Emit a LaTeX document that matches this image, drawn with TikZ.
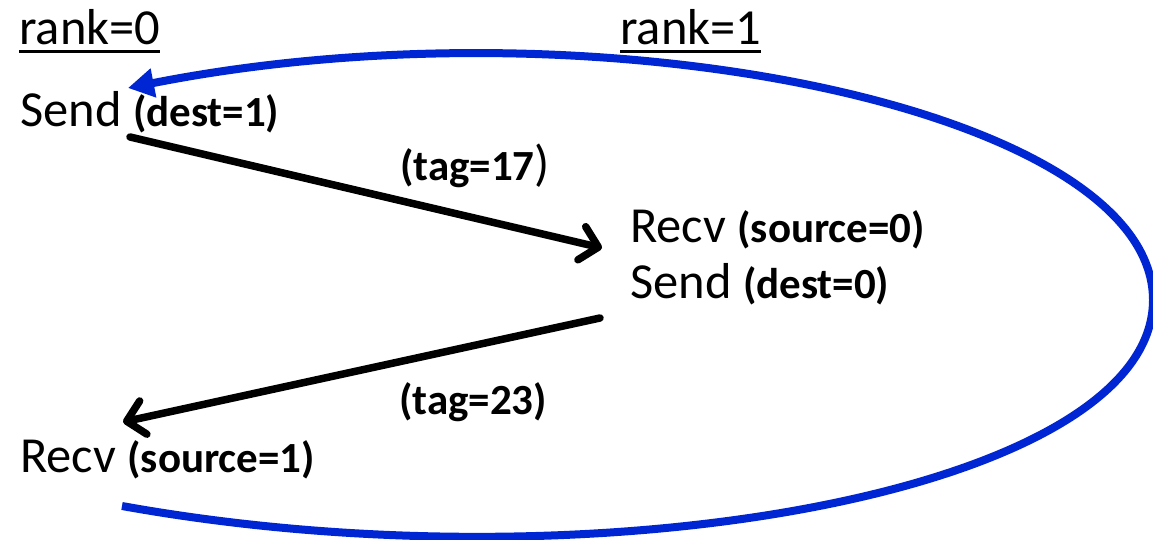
\documentclass[tikz,border=0pt]{standalone}
\usepackage{fontspec}
\setmainfont{Carlito}
\usetikzlibrary{arrows.meta}
\definecolor{loopblue}{RGB}{0,38,212}
\newcommand{\parm}[1]{{\bfseries\fontsize{43}{51}\selectfont #1}}
\begin{document}
\begin{tikzpicture}[x=1pt,y=-1pt,
  big/.style={inner sep=0pt, anchor=base west, font=\fontsize{50.5}{60}\selectfont},
  msg/.style={line width=7.5pt, line cap=round, -{Straight Barb[length=17pt,width=34pt,line cap=round,line join=round]}},
  loopline/.style={line width=8pt, draw=loopblue, -{Triangle[length=26pt,width=28pt]}},
  uline/.style={line width=3pt}]
\useasboundingbox (0,0) rectangle (1153,540);

\node[big] (rank0) at (19,45) {rank=0};
\node[big] (rank1) at (620,45) {rank=1};
\draw[uline] ([yshift=-7pt]rank0.base west) -- ([yshift=-7pt]rank0.base east);
\draw[uline] ([yshift=-7pt]rank1.base west) -- ([yshift=-7pt]rank1.base east);

\node[big] (send0) at (20,127) {Send \parm{(dest=1)}};
\node[big] (recv1) at (630,242) {Recv \parm{(source=0)}};
\node[big] (send1) at (630,298) {Send \parm{(dest=0)}};
\node[big] (recv0) at (20,472) {Recv \parm{(source=1)}};

\node[big] (tag17) at (400,181) {\parm{(tag=17}\fontsize{50}{60}\selectfont)};
\node[big] (tag23) at (399,414) {\parm{(tag=23)}};

\coordinate (a1s) at ([shift={(110,10)}]send0.base west);
\coordinate (a1e) at ([shift={(-28,6)}]recv1.base west);
\coordinate (a2s) at ([shift={(-30,20)}]send1.base west);
\coordinate (a2e) at ([shift={(103,-50)}]recv0.base west);
\coordinate (bs) at ([shift={(102,34)}]recv0.base west);
\coordinate (be) at ([shift={(108,-39)}]send0.base west);

\draw[msg] (a1s) -- (a1e);
\draw[msg] (a2s) -- (a2e);
\draw[loopline] (bs) .. controls (600,592) and (1153,490) .. (1153,300)
  .. controls (1153,110) and (600,-5) .. (be);
\end{tikzpicture}
\end{document}
